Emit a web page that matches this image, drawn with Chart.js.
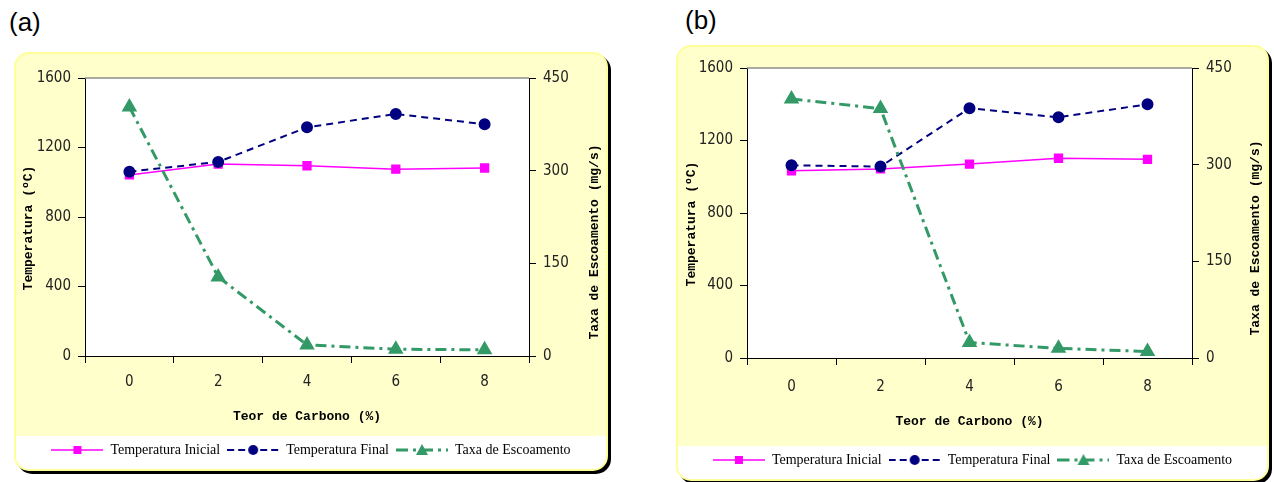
<!DOCTYPE html>
<html>
<head>
<meta charset="utf-8">
<script src="https://cdn.jsdelivr.net/npm/chart.js@4.4.1/dist/chart.umd.min.js"></script>
<style>
  body { margin: 0; width: 1274px; height: 482px; background: #fff; position: relative; overflow: hidden; font-family: "Liberation Sans", Arial, sans-serif; }
  .tag { position: absolute; font-size: 26px; color: #000; line-height: 30px; }
  .box { position: absolute; background: #ffffcc; border: 2px solid #ffff99; border-radius: 15px; box-shadow: 3px 3px 0 #000; overflow: hidden; }
  .box canvas { display: block; }
</style>
</head>
<body>
<div class="tag" style="left:9px;top:7px">(a)</div>
<div class="tag" style="left:685px;top:5px">(b)</div>
<div class="box" style="left:14px;top:52px;width:590px;height:415px"><canvas id="chartA" width="590" height="415" style="width:590px;height:415px"></canvas></div>
<div class="box" style="left:676px;top:45px;width:589px;height:432px"><canvas id="chartB" width="589" height="432" style="width:589px;height:432px"></canvas></div>
<script>
// teor de carbono (%)
const carbono = ['0', '2', '4', '6', '8'];

// (a)
const tempInicialA = [1042, 1105, 1095, 1075, 1082];
const tempFinalA = [1061, 1117, 1316, 1393, 1334];
const taxaA = [403, 128, 18, 11, 10];

// (b)
const tempInicialB = [1033, 1043, 1070, 1102, 1096];
const tempFinalB = [1063, 1056, 1378, 1328, 1400];
const taxaB = [402, 387, 24, 15, 10];

const tempTicks = [0, 400, 800, 1200, 1600];
const taxaTicks = [0, 150, 300, 450];

const tickFont = { family: '"Liberation Sans Narrow", "DejaVu Sans Condensed", sans-serif', size: 15 };
const titleFont = '"Liberation Mono", "DejaVu Sans Mono", monospace';

// small line+marker pictures for the legend
function legendIcon(color, lw, dash, marker) {
  const c = document.createElement('canvas');
  c.width = 52; c.height = 14;
  const g = c.getContext('2d');
  g.strokeStyle = color; g.fillStyle = color; g.lineWidth = lw;
  g.setLineDash(dash);
  g.beginPath(); g.moveTo(0, 7); g.lineTo(52, 7); g.stroke();
  g.setLineDash([]);
  g.beginPath();
  if (marker === 'rect') g.rect(22, 3, 8, 8);
  else if (marker === 'circle') g.arc(26, 7, 5, 0, Math.PI * 2);
  else { g.moveTo(26, 1); g.lineTo(32, 12); g.lineTo(20, 12); g.closePath(); }
  g.fill();
  return c;
}
const icons = [
  legendIcon('#ff00ff', 1.5, [], 'rect'),
  legendIcon('#000080', 2, [7, 4], 'circle'),
  legendIcon('#339966', 3, [12, 5, 3, 5], 'triangle')
];

const frame = {
  id: 'frame',
  beforeDraw(chart) {
    const { ctx, chartArea: a, legend } = chart;
    ctx.save();
    ctx.fillStyle = '#ffffff';
    ctx.fillRect(a.left, a.top, a.right - a.left, a.bottom - a.top);
    ctx.fillRect(0, legend.top, chart.width, chart.height - legend.top);
    ctx.restore();
  },
  afterDraw(chart, args, opts) {
    const { ctx, chartArea: a } = chart;
    ctx.save();
    ctx.strokeStyle = '#8c8c8c';
    ctx.lineWidth = 1.5;
    ctx.beginPath(); ctx.moveTo(a.left, a.top); ctx.lineTo(a.right, a.top); ctx.stroke();
    const mid = (a.top + a.bottom) / 2;
    ctx.font = 'bold 13px ' + titleFont;
    ctx.fillStyle = '#000';
    ctx.textAlign = 'center';
    ctx.textBaseline = 'middle';
    ctx.save();
    ctx.translate(opts.leftX, mid + 11);
    ctx.rotate(-Math.PI / 2);
    ctx.fillText('Temperatura (ºC)', 0, 0);
    ctx.restore();
    ctx.translate(chart.width - opts.rightX, mid + 25);
    ctx.rotate(-Math.PI / 2);
    ctx.fillText('Taxa de Escoamento (mg/s)', 0, 0);
    ctx.restore();
  }
};

function makeChart(id, inicial, final, taxa, g) {
  const axisLine = { drawOnChartArea: false, drawTicks: true, tickLength: 7, color: '#000' };
  const plain = v => String(v);
  return new Chart(document.getElementById(id), {
    type: 'line',
    data: {
      labels: carbono,
      datasets: [
        {
          label: 'Temperatura Inicial', data: inicial, yAxisID: 'y', order: 3,
          borderColor: '#ff00ff', backgroundColor: '#ff00ff', borderWidth: 1.5,
          pointStyle: 'rect', pointRadius: 5.5, pointBackgroundColor: '#ff00ff', pointBorderColor: '#ff00ff'
        },
        {
          label: 'Temperatura Final', data: final, yAxisID: 'y', order: 2,
          borderColor: '#000080', backgroundColor: '#000080', borderWidth: 2, borderDash: [7, 5],
          pointStyle: 'circle', pointRadius: 5, pointBackgroundColor: '#000080', pointBorderColor: '#000080'
        },
        {
          label: 'Taxa de Escoamento', data: taxa, yAxisID: 'y1', order: 1,
          borderColor: '#339966', backgroundColor: '#339966', borderWidth: 3, borderDash: [11, 5, 3, 5],
          pointStyle: 'triangle', pointRadius: 6, pointBackgroundColor: '#339966', pointBorderColor: '#339966'
        }
      ]
    },
    options: {
      responsive: false,
      animation: false,
      devicePixelRatio: 1,
      layout: { padding: { top: g.top, bottom: 2, left: 0, right: 0 } },
      elements: { line: { tension: 0 } },
      scales: {
        x: {
          type: 'category',
          offset: true,
          grid: Object.assign({ offset: true }, axisLine),
          border: { display: true, color: '#000', width: 1 },
          ticks: { font: tickFont, color: '#222', padding: g.xPad, maxRotation: 0 },
          title: {
            display: true, text: 'Teor de Carbono (%)', color: '#000',
            font: { family: titleFont, size: 13, weight: 'bold' },
            padding: { top: 2, bottom: g.xTitlePad }
          },
          afterFit: s => { s.height = g.xH; }
        },
        y: {
          position: 'left', min: 0, max: 1600,
          grid: axisLine,
          border: { display: true, color: '#000', width: 1 },
          ticks: { font: tickFont, color: '#222', padding: 7, callback: plain },
          afterBuildTicks: s => { s.ticks = tempTicks.map(v => ({ value: v })); },
          afterFit: s => { s.width = g.left; }
        },
        y1: {
          position: 'right', min: 0, max: 450,
          grid: axisLine,
          border: { display: true, color: '#000', width: 1 },
          ticks: { font: tickFont, color: '#222', padding: 7, callback: plain },
          afterBuildTicks: s => { s.ticks = taxaTicks.map(v => ({ value: v })); },
          afterFit: s => { s.width = g.right; }
        }
      },
      plugins: {
        tooltip: { enabled: false },
        frame: { leftX: g.leftX, rightX: g.rightX },
        legend: {
          position: 'bottom',
          labels: {
            usePointStyle: true,
            pointStyleWidth: 52,
            padding: 7,
            color: '#000',
            font: { family: '"Liberation Serif", serif', size: 14 },
            generateLabels: chart => chart.data.datasets.map((ds, i) => ({
              text: ds.label, pointStyle: icons[i], datasetIndex: i, hidden: false,
              fontColor: '#000', lineWidth: 0, strokeStyle: 'rgba(0,0,0,0)', fillStyle: 'rgba(0,0,0,0)'
            }))
          },
          onClick: () => {}
        }
      }
    },
    plugins: [frame]
  });
}

makeChart('chartA', tempInicialA, tempFinalA, taxaA,
  { top: 24, left: 69, right: 77, xH: 80, xPad: 10, xTitlePad: 11, leftX: 13, rightX: 11 });
makeChart('chartB', tempInicialB, tempFinalB, taxaB,
  { top: 21, left: 69, right: 75, xH: 88, xPad: 13, xTitlePad: 16, leftX: 14, rightX: 11 });
</script>
</body>
</html>
